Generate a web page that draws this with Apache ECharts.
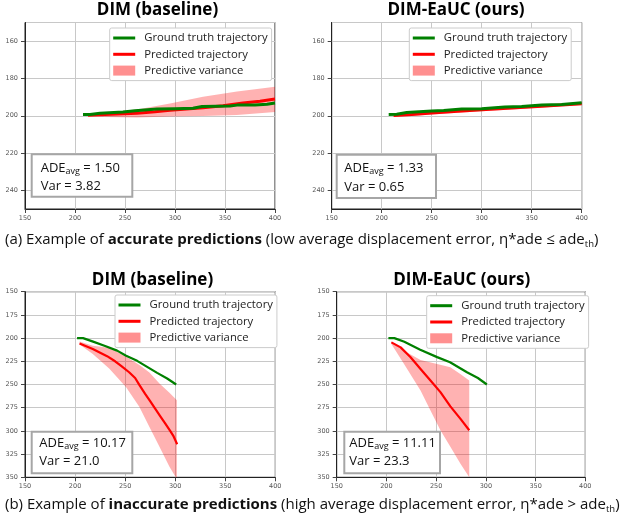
<!DOCTYPE html>
<html>
<head>
<meta charset="utf-8">
<script src="https://cdn.jsdelivr.net/npm/echarts@6/dist/echarts.min.js"></script>
<style>
  html, body { margin: 0; padding: 0; background: #fff; }
  #chart { width: 620px; height: 520px; }
</style>
</head>
<body>
<div id="chart"></div>
<script>
// --- data (x, y pixel-space coordinates of the scene) ---
const titles = ["DIM (baseline)", "DIM-EaUC (ours)", "DIM (baseline)", "DIM-EaUC (ours)"];
const adeValues = ["1.50", "1.33", "10.17", "11.11"];
const varValues = ["3.82", "0.65", "21.0", "23.3"];
const legendNames = ["Ground truth trajectory", "Predicted trajectory", "Predictive variance"];

// (a) accurate, baseline
const gtA1 = [[208, 199.3], [215, 199.3], [225, 198.6], [248, 198], [260, 197.3], [282, 196.4], [300, 196.2],
  [318, 196], [327, 195], [355, 194.8], [362, 194.3], [380, 194.2], [392, 193.8], [400, 193.2]];
const predA1 = [[213, 199.8], [230, 199.3], [262, 198.7], [280, 197.8], [295, 197], [328, 195.7], [348, 194.6],
  [368, 193.2], [385, 192.2], [400, 191]];
const bandA1 = [[208, 199], [230, 198.2], [262, 196.6], [295, 193.4], [328, 189.8], [362, 187], [400, 184.5],
  [400, 198], [362, 199.6], [328, 200.2], [295, 200.4], [262, 201], [228, 200.7], [208, 200]];

// (a) accurate, EaUC
const gtA2 = [[207, 199.3], [215, 199.2], [225, 198.3], [250, 197.5], [262, 197.2], [280, 196.4], [300, 196.2],
  [323, 195.3], [340, 195], [360, 194.3], [380, 194], [400, 193]];
const predA2 = [[212, 199.9], [230, 199.3], [250, 198.5], [276, 197.6], [300, 196.8], [330, 195.8], [360, 194.9], [400, 193.6]];
const bandA2 = [[208, 199], [230, 198.6], [250, 197.7], [276, 196.9], [300, 196.1], [330, 195.2], [360, 194.2], [400, 193],
  [400, 194.2], [360, 195.6], [330, 196.6], [300, 197.6], [276, 198.4], [250, 199.3], [230, 200.1], [212, 200.5]];

// (b) inaccurate, baseline
const gtB1 = [[202, 200], [208, 200], [218, 203.8], [230, 208.5], [242, 213.5], [251, 219], [262, 224.5],
  [272, 231], [282, 237.5], [292, 243.5], [301, 250]];
const predB1 = [[204.5, 205.7], [217.7, 211.8], [232, 219.5], [240, 225], [246, 230], [254, 236.8], [260, 243],
  [264.5, 251], [270, 260], [275, 268], [280, 276], [285, 284], [290, 292], [295, 300], [298, 305], [302, 314.3]];
const bandB1 = [[204.5, 203.6], [217.7, 208.2], [234.3, 210.5], [251, 220], [264.3, 229], [274.3, 237], [284.3, 249],
  [294.3, 259], [301.7, 267], [301.7, 352], [294.3, 338.6], [284.3, 317], [274.3, 295.7], [264.3, 274.3],
  [251, 252.9], [234.3, 233], [217.7, 217], [204.5, 207]];

// (b) inaccurate, EaUC
const gtB2 = [[202, 200], [208, 200], [218, 204], [234, 212.5], [251, 220.5], [264, 226], [281, 236.8], [292, 243], [301, 250]];
const predB2 = [[205, 204.6], [214.3, 210], [224.3, 220.7], [234.3, 233.2], [244.3, 245.7], [254.3, 258.2],
  [264.3, 273.6], [274.3, 286.8], [283.3, 299.3]];
const bandB2 = [[205, 203.6], [217.7, 213.6], [234.3, 223.6], [251, 228], [264.3, 231.4], [274.3, 238.6], [283.3, 245.7],
  [283.3, 350], [274.3, 335], [264.3, 317], [254.3, 299.3], [244.3, 277.9], [234.3, 256.4], [217.7, 227.9], [205, 206.4]];

const gts = [gtA1, gtA2, gtB1, gtB2];
const preds = [predA1, predA2, predB1, predB2];
const bands = [bandA1, bandA2, bandB1, bandB2];

// --- layout ---
const FONT = '"Open Sans", "Noto Sans", sans-serif';
const TICK_FONT = '"DejaVu Sans", sans-serif';
const GREEN = "#008000";
const RED = "#ff0000";
const BAND = "rgba(255, 0, 0, 0.3)";

const grids = [
  { left: 25, top: 22.5, width: 250, height: 186.5 },
  { left: 331.7, top: 22.5, width: 250, height: 186.5 },
  { left: 25, top: 291.7, width: 250.3, height: 185.6 },
  { left: 336.7, top: 291.7, width: 248.6, height: 185.6 }
];
const titlePos = [[157.5, 10], [456, 10], [152.5, 280], [461.7, 280]];
const legendPos = [[109.7, 28], [409.3, 28], [115, 295], [426.7, 295.7]];
const boxPos = [
  { x: 31.7, y: 154.3, w: 100.6, h: 42.4, tx: 40.7, l1: 168, l2: 186.7 },
  { x: 336.7, y: 154.7, w: 99.3, h: 43.3, tx: 344.3, l1: 168, l2: 187 },
  { x: 31.7, y: 431.7, w: 100.6, h: 41.6, tx: 39.3, l1: 443.3, l2: 461.5 },
  { x: 344.3, y: 431.7, w: 95.7, h: 41.6, tx: 349.3, l1: 443.3, l2: 461.5 }
];

const axisCommon = {
  axisLine: { show: true, lineStyle: { color: "#222", width: 1 } },
  axisTick: { show: true, length: 4, lineStyle: { color: "#444" } },
  splitLine: { show: true, lineStyle: { color: "#c8c8c8", width: 1 } },
  axisLabel: { fontFamily: TICK_FONT, fontSize: 6.5, color: "#555" }
};

const xAxes = grids.map((g, i) => ({
  type: "value", gridIndex: i, min: 150, max: 400, interval: 50,
  ...axisCommon,
  axisLabel: { ...axisCommon.axisLabel, margin: 6 }
}));

const yAxes = grids.map((g, i) => {
  const base = {
    type: "value", gridIndex: i, inverse: true,
    ...axisCommon,
    axisLabel: { ...axisCommon.axisLabel, margin: 7 }
  };
  if (i < 2) {
    return { ...base, min: 150, max: 250, splitNumber: 5,
      axisLabel: { ...base.axisLabel, showMinLabel: false, showMaxLabel: false } };
  }
  return { ...base, min: 150, max: 350, interval: 25 };
});

const series = [];
for (let i = 0; i < 4; i++) {
  const lw = i < 2 ? 3 : 2.2;
  const band = bands[i];
  series.push({
    type: "custom", name: legendNames[2], xAxisIndex: i, yAxisIndex: i, clip: true, z: 1,
    data: [band[0]],
    itemStyle: { color: BAND },
    renderItem: (params, api) => ({
      type: "polygon",
      shape: { points: band.map((p) => api.coord(p)) },
      style: { fill: BAND }
    })
  });
  series.push({
    type: "line", name: legendNames[1], xAxisIndex: i, yAxisIndex: i, z: 2,
    data: preds[i], symbol: "none", animation: false,
    itemStyle: { color: RED }, lineStyle: { color: RED, width: lw }
  });
  series.push({
    type: "line", name: legendNames[0], xAxisIndex: i, yAxisIndex: i, z: 3,
    data: gts[i], symbol: "none", animation: false,
    itemStyle: { color: GREEN }, lineStyle: { color: GREEN, width: lw }
  });
}

const legends = legendPos.map(([x, y]) => ({
  left: x, top: y, orient: "vertical", selectedMode: false,
  backgroundColor: "#fff", borderColor: "#cccccc", borderWidth: 1, borderRadius: 2,
  padding: [3, 4, 3, 2], itemGap: 2.3, itemWidth: 22, itemHeight: 10,
  textStyle: { fontFamily: FONT, fontSize: 11.3, color: "#222", lineHeight: 14, padding: [0, 0, 0, 4] },
  data: [
    { name: legendNames[0], itemStyle: { opacity: 0 }, lineStyle: { width: 3 } },
    { name: legendNames[1], itemStyle: { opacity: 0 }, lineStyle: { width: 3 } },
    { name: legendNames[2], icon: "rect", itemStyle: { color: "#ff9090" } }
  ]
}));

const graphics = [];
titles.forEach((t, i) => {
  graphics.push({
    type: "text", x: titlePos[i][0], y: titlePos[i][1], z: 10,
    style: { text: t, font: "bold 17px " + FONT, fill: "#000", align: "center", verticalAlign: "middle" }
  });
});
boxPos.forEach((b, i) => {
  graphics.push({
    type: "rect", z: 10,
    shape: { x: b.x, y: b.y, width: b.w, height: b.h },
    style: { fill: "#fff", stroke: "#a6a6a6", lineWidth: 2 }
  });
  graphics.push({
    type: "text", x: b.tx, y: b.l1, z: 11,
    style: {
      text: "{m|ADE}{s|avg}{m| = " + adeValues[i] + "}",
      verticalAlign: "middle",
      rich: {
        m: { font: "13px " + FONT, fill: "#111", lineHeight: 16 },
        s: { font: "9px " + FONT, fill: "#111", lineHeight: 16, padding: [7, 0, 0, 0] }
      }
    }
  });
  graphics.push({
    type: "text", x: b.tx, y: b.l2, z: 11,
    style: { text: "Var = " + varValues[i], font: "13px " + FONT, fill: "#111", verticalAlign: "middle" }
  });
});
const captionRich = {
  r: { font: "15px " + FONT, fill: "#111" },
  b: { font: "bold 15px " + FONT, fill: "#111" },
  s: { font: "9.5px " + FONT, fill: "#111", padding: [8, 0, 0, 0] }
};
graphics.push({
  type: "text", x: 5, y: 240, z: 10,
  style: {
    text: "{r|(a) Example of }{b|accurate predictions}{r| (low average displacement error, η*ade ≤ ade}{s|th}{r|)}",
    verticalAlign: "middle", rich: captionRich
  }
});
graphics.push({
  type: "text", x: 5, y: 505, z: 10,
  style: {
    text: "{r|(b) Example of }{b|inaccurate predictions}{r| (high average displacement error, η*ade > ade}{s|th}{r|)}",
    verticalAlign: "middle", rich: captionRich
  }
});

const chart = echarts.init(document.getElementById("chart"));
chart.setOption({
  animation: false,
  backgroundColor: "#fff",
  grid: grids.map((g) => ({ ...g, show: true, borderColor: "#222", borderWidth: 1, containLabel: false })),
  xAxis: xAxes,
  yAxis: yAxes,
  legend: legends,
  series: series,
  graphic: graphics
});
</script>
</body>
</html>
